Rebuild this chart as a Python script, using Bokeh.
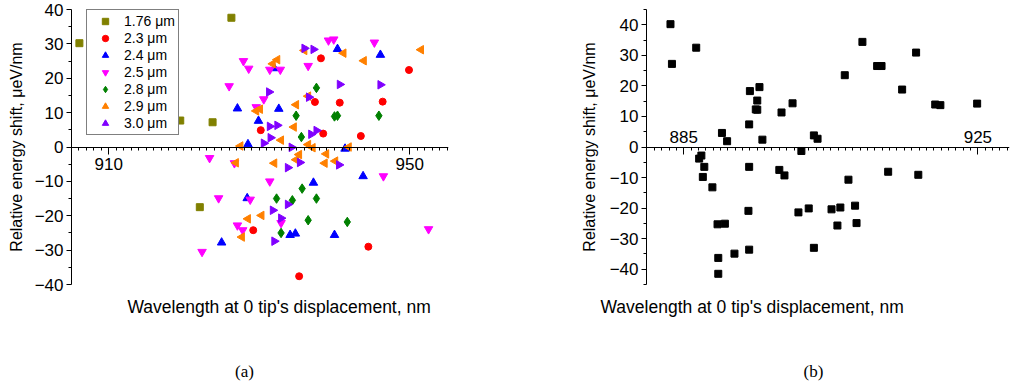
import numpy as np
from bokeh.plotting import figure
from bokeh.models import FixedTicker, Range1d, Legend, LegendItem, Title, Label
from bokeh.layouts import row, column
from bokeh.embed import file_html
from bokeh.resources import INLINE

# ---------------- data: panel (a) ----------------
series_names = ["1.76 μm", "2.3 μm", "2.4 μm", "2.5 μm", "2.8 μm", "2.9 μm", "3.0 μm"]

wl_176 = [906.1, 919.5, 922.1, 923.8, 926.3]
sh_176 = [30.2, 7.7, -17.5, 7.2, 37.6]

wl_23 = [929.2, 930.2, 935.3, 937.4, 938.2, 938.5, 940.7, 943.5, 944.5, 946.4, 949.9]
sh_23 = [-24.2, 4.9, -37.6, 13.1, 25.8, 3.9, 12.9, 3.2, -29.0, 13.2, 22.4]

wl_24 = [925.0, 927.1, 928.4, 928.5, 929.9, 932.0, 932.6, 934.1, 934.8, 937.2, 940.0, 940.4, 941.4, 943.8, 946.1]
sh_24 = [-27.8, 11.2, -14.9, 0.8, 7.6, 22.9, 11.1, -25.6, -25.2, -10.4, -25.6, 28.5, -0.5, -8.5, 26.8]

wl_25 = [922.4, 923.4, 924.6, 926.0, 926.7, 927.1, 927.8, 927.9, 928.6, 928.8, 929.6, 930.6, 931.4, 931.4,
         932.8, 932.9, 936.5, 939.2, 939.9, 945.3, 946.5, 952.5]
sh_25 = [-30.5, -3.2, -14.9, 17.7, -4.7, -22.8, -24.2, 25.0, 22.8, -15.3, 11.6, 13.9, 22.5, -10.0,
         22.5, -22.1, 23.6, 31.0, 31.3, 30.4, -8.5, -23.9]

wl_28 = [932.3, 932.9, 934.4, 934.9, 935.6, 935.7, 936.5, 937.6, 937.6, 940.0, 940.4, 941.7, 945.9]
sh_28 = [-15.0, -25.0, -15.5, 9.1, 2.9, -12.1, -21.3, 17.2, -15.0, 8.9, 9.1, -21.8, 9.1]

wl_29 = [926.9, 927.5, 927.7, 928.5, 929.6, 930.1, 930.3, 931.8, 932.0, 932.4, 932.9, 934.6, 934.9,
         934.9, 935.3, 936.0, 936.5, 936.5, 937.1, 938.7, 938.9, 940.1, 941.2, 941.9, 943.9, 951.5]
sh_29 = [-4.6, 0.3, -26.2, -20.9, 10.5, 11.0, -19.9, 24.2, -4.7, 25.4, 2.0, 5.8, 12.3,
         -3.7, -2.2, 28.1, 14.8, 0.7, -0.2, -4.7, -2.0, -4.1, 27.3, 0.0, 25.1, 28.3]

wl_30 = [930.6, 931.3, 931.4, 931.5, 931.8, 932.0, 932.4, 932.9, 933.8, 933.8, 934.3, 935.4, 936.0,
         936.6, 936.9, 937.2, 937.6, 940.6, 940.7, 946.1]
sh_30 = [1.1, 16.0, 6.0, 2.7, -18.4, -27.4, 6.3, -20.7, -6.0, -16.7, -0.1, -4.5, 28.7,
         14.5, 3.7, 28.4, 4.8, -5.2, 18.2, 18.1]

xticks_a = [910, 950]
yticks = [-40, -30, -20, -10, 0, 10, 20, 30, 40]

# ---------------- data: panel (b) ----------------
wl_b = [883.2, 883.4, 886.7, 887.1, 887.4, 887.6, 887.8, 888.9, 889.6, 889.7, 889.7, 890.2, 890.6,
        890.9, 891.9, 893.8, 893.9, 893.9, 893.9, 894.0, 894.8, 895.0, 895.0, 895.3, 895.7, 898.0,
        898.3, 898.7, 899.8, 900.6, 901.0, 902.0, 902.7, 902.7, 903.2, 905.1, 905.9, 906.3, 906.9,
        907.4, 908.3, 908.5, 909.3, 911.3, 911.9, 912.8, 914.7, 916.6, 916.9, 919.2, 919.9, 924.9]
sh_b = [40.2, 27.2, 32.5, -3.8, -2.8, -9.8, -6.5, -13.2, -25.3, -36.3, -41.5, 4.6, -25.1,
        1.9, -34.9, -20.9, -33.6, 7.4, -6.5, 18.3, 12.3, 15.2, 12.2, 19.6, 2.4, -7.5,
        11.3, -9.3, 14.3, -21.4, -1.3, -20.1, 3.8, -33.0, 2.7, -20.4, -25.7, -19.8, 23.5,
        -10.7, -19.2, -24.9, 34.4, 26.5, 26.5, -8.1, 18.8, 30.9, -9.1, 13.9, 13.7, 14.2]

xticks_b = [885, 925]

x_label = "Wavelength at 0 tip's displacement, nm"
y_label = "Relative energy shift, μeV/nm"
panel_tags = ["(a)", "(b)"]

# ---------------- styles ----------------
SANS = "Liberation Sans"
SERIF = "Liberation Serif"
series_data = [(wl_176, sh_176), (wl_23, sh_23), (wl_24, sh_24), (wl_25, sh_25),
               (wl_28, sh_28), (wl_29, sh_29), (wl_30, sh_30)]
styles = [
    dict(marker="square", color="#808000", size=7, angle=0.0),
    dict(marker="circle", color="#ff0000", size=7, angle=0.0),
    dict(marker="triangle", color="#0000ff", size=8.5, angle=0.0),
    dict(marker="inverted_triangle", color="#ff00ff", size=8.5, angle=0.0),
    dict(marker="diamond", color="#008000", size=9.5, angle=0.0),
    dict(marker="triangle", color="#ff8000", size=8.5, angle=np.pi / 2),
    dict(marker="triangle", color="#8000ff", size=8.5, angle=-np.pi / 2),
]

TOP_H = 353      # height of the two chart panels
CAP_H = 36       # height of the caption strip with (a), (b)


def common_style(p, yminor, label_standoff):
    p.xgrid.visible = False
    p.ygrid.visible = False
    p.outline_line_color = None
    p.background_fill_color = "white"
    p.border_fill_color = "white"
    ya = p.yaxis[0]
    ya.ticker = FixedTicker(ticks=yticks, minor_ticks=yminor)
    ya.axis_label = y_label
    ya.axis_label_text_font = SANS
    ya.axis_label_text_font_size = "16px"
    ya.axis_label_text_font_style = "normal"
    ya.axis_label_text_color = "black"
    ya.axis_label_standoff = label_standoff
    ya.major_label_text_font = SANS
    ya.major_label_text_font_size = "17px"
    ya.major_label_text_color = "black"
    ya.major_label_standoff = 3
    ya.major_tick_out = 5
    ya.major_tick_in = 0
    ya.minor_tick_out = 3
    ya.minor_tick_in = 0
    ya.axis_line_color = "black"
    ya.major_tick_line_color = "black"
    ya.minor_tick_line_color = "black"
    xa = p.xaxis[0]
    xa.fixed_location = 0
    xa.major_label_text_font = SANS
    xa.major_label_text_font_size = "17px"
    xa.major_label_text_color = "black"
    xa.axis_line_color = "black"
    xa.major_tick_line_color = "black"
    xa.minor_tick_line_color = "black"


def add_xlabel(p, offset):
    p.add_layout(Title(text=x_label, align="left", offset=offset, standoff=21,
                       text_font=SANS, text_font_size="17.5px", text_font_style="normal",
                       text_color="black"), "below")


# ---------------- panel (a) ----------------
p1 = figure(width=577, height=TOP_H, x_range=Range1d(905.05, 955.15), y_range=Range1d(-40, 40),
            output_backend="svg", toolbar_location=None,
            min_border_left=71, min_border_right=129, min_border_top=9,
            min_border_bottom=TOP_H - 284)
common_style(p1, [-35, -25, -15, -5, 5, 15, 25, 35], 7)
xa1 = p1.xaxis[0]
xa1.ticker = FixedTicker(ticks=xticks_a, minor_ticks=list(range(906, 956)))
xa1.major_tick_out = 7
xa1.major_tick_in = 0
xa1.minor_tick_out = 3
xa1.minor_tick_in = 0
xa1.major_label_standoff = 4

items = []
for name, (xs, ys), st in zip(series_names, series_data, styles):
    r = p1.scatter(x=xs, y=ys, marker=st["marker"], size=st["size"], angle=st["angle"],
                   fill_color=st["color"], line_color=st["color"])
    items.append(LegendItem(label=name, renderers=[r]))

legend = Legend(items=items, location=(15, 149))
legend.label_text_font = SANS
legend.label_text_font_size = "14px"
legend.label_text_color = "black"
legend.border_line_color = "black"
legend.border_line_width = 1
legend.background_fill_color = "white"
legend.background_fill_alpha = 1.0
legend.padding = 3
legend.spacing = 1
legend.margin = 0
legend.glyph_width = 30
legend.glyph_height = 16
legend.label_height = 16
legend.label_width = 50
legend.label_standoff = 4
p1.add_layout(legend)

add_xlabel(p1, 56)

# ---------------- panel (b) ----------------
p2 = figure(width=433, height=TOP_H, x_range=Range1d(879.94, 929.3), y_range=Range1d(-45, 45),
            output_backend="svg", toolbar_location=None, x_axis_location="above",
            min_border_left=61, min_border_right=1, min_border_top=8,
            min_border_bottom=TOP_H - 285)
common_style(p2, [-45, -35, -25, -15, -5, 5, 15, 25, 35, 45], 9)
xa2 = p2.xaxis[0]
xa2.ticker = FixedTicker(ticks=xticks_b, minor_ticks=list(range(880, 930)))
xa2.major_tick_out = 0
xa2.major_tick_in = 7
xa2.minor_tick_out = 0
xa2.minor_tick_in = 3
xa2.major_label_standoff = 4

p2.scatter(x=wl_b, y=sh_b, marker="square", size=7, fill_color="black", line_color="black")

add_xlabel(p2, -46)

# ---------------- caption strip: (a), (b) ----------------
cap = figure(width=1010, height=CAP_H, x_range=Range1d(0, 1010), y_range=Range1d(0, CAP_H),
             output_backend="svg", toolbar_location=None, x_axis_type=None, y_axis_type=None,
             min_border=0, min_border_left=0, min_border_right=0, min_border_top=0,
             min_border_bottom=0)
cap.xgrid.visible = False
cap.ygrid.visible = False
cap.outline_line_color = None
for tag, xc in zip(panel_tags, [244, 813]):
    cap.add_layout(Label(x=xc, y=CAP_H - 18, text=tag, text_font=SERIF, text_font_size="17px",
                         text_align="center", text_baseline="middle", text_color="black"))

layout = column(row(p1, p2), cap)
open("out.html", "w").write(file_html(layout, INLINE))
